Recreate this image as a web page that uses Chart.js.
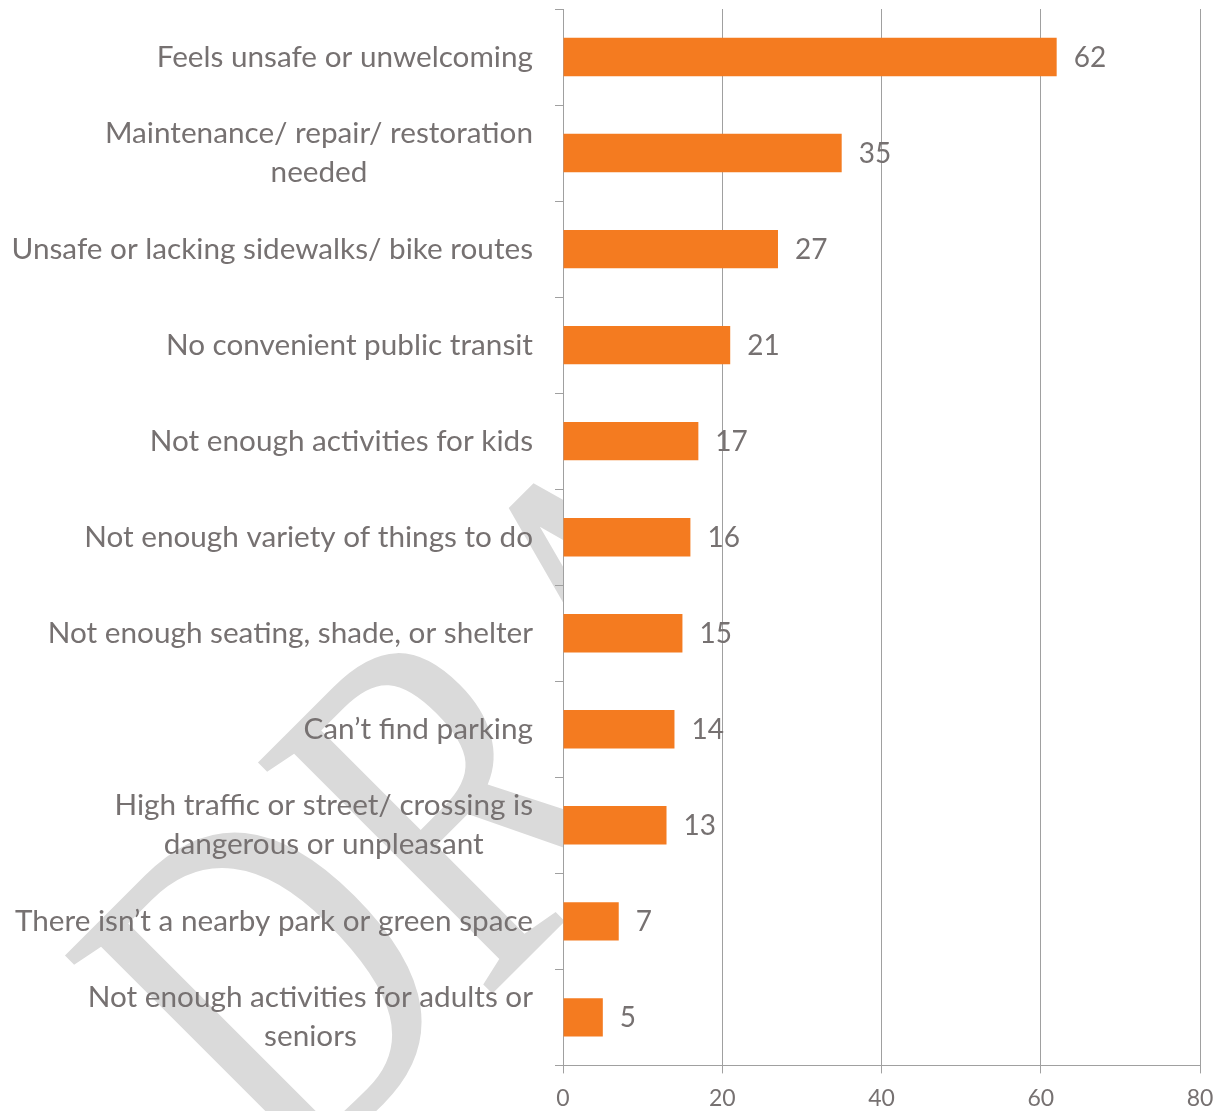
<!DOCTYPE html>
<html>
<head>
<meta charset="utf-8">
<script src="https://cdn.jsdelivr.net/npm/chart.js@4"></script>
<style>
  html, body { margin: 0; padding: 0; background: #fff; }
  #wrap { width: 1220px; height: 1111px; }
</style>
</head>
<body>
<div id="wrap"><canvas id="bars" width="1220" height="1111"></canvas></div>
<script>
const categories = [
  ['Feels unsafe or unwelcoming'],
  ['Maintenance/ repair/ restoration', 'needed'],
  ['Unsafe or lacking sidewalks/ bike routes'],
  ['No convenient public transit'],
  ['Not enough activities for kids'],
  ['Not enough variety of things to do'],
  ['Not enough seating, shade, or shelter'],
  ['Can\u2019t find parking'],
  ['High traffic or street/ crossing is', 'dangerous or unpleasant'],
  ['There isn\u2019t a nearby park or green space'],
  ['Not enough activities for adults or', 'seniors']
]
const counts = [62, 35, 27, 21, 17, 16, 15, 14, 13, 7, 5]
const xTicks = [0, 20, 40, 60, 80]

const textGray = '#767171'
const lineGray = '#a0a0a0'
const orange = '#F47B20'

// stretched "DRAFT" watermark behind the labels; the plot area is filled white over it
const watermark = {
  id: 'watermark',
  beforeDraw(chart) {
    const ctx = chart.ctx
    const area = chart.chartArea
    ctx.save()
    ctx.translate(290, 1196)
    ctx.rotate(-Math.PI / 4)
    ctx.scale(1, 1.33)
    ctx.font = '378px "Liberation Serif"'
    ctx.fillStyle = '#dadada'
    ctx.textBaseline = 'alphabetic'
    ctx.fillText('DRAFT', 0, 0)
    ctx.restore()
    ctx.save()
    ctx.fillStyle = '#fff'
    ctx.fillRect(area.left, area.top, area.right - area.left, area.bottom - area.top)
    ctx.restore()
  }
}

// category labels (second line centred under the first) and value labels
const labels = {
  id: 'labels',
  afterDraw(chart) {
    const ctx = chart.ctx
    const y = chart.scales.y
    const meta = chart.getDatasetMeta(0)
    ctx.save()
    ctx.fillStyle = textGray
    ctx.textBaseline = 'middle'
    ctx.font = '29.7px Lato'
    const right = chart.chartArea.left - 30
    categories.forEach((lines, i) => {
      const cy = y.getPixelForValue(i)
      if (lines.length === 1) {
        ctx.textAlign = 'right'
        ctx.fillText(lines[0], right, cy)
      } else {
        const w = ctx.measureText(lines[0]).width
        const mid = right - w / 2
        ctx.textAlign = 'center'
        ctx.fillText(lines[0], mid, cy - 19.5)
        ctx.fillText(lines[1], mid, cy + 19.5)
      }
    })
    ctx.font = '28px Lato'
    ctx.textAlign = 'left'
    meta.data.forEach((bar, i) => {
      ctx.fillText(String(counts[i]), bar.x + 17, bar.y + 1)
    })
    ctx.restore()
  }
}

new Chart(document.getElementById('bars'), {
  type: 'bar',
  data: {
    labels: categories.map(c => c.join(' ')),
    datasets: [{
      data: counts,
      backgroundColor: orange,
      barPercentage: 0.4,
      categoryPercentage: 1
    }]
  },
  options: {
    indexAxis: 'y',
    responsive: false,
    animation: false,
    devicePixelRatio: 1,
    layout: { padding: { left: 555, right: 20, top: 9, bottom: -13 } },
    plugins: {
      legend: { display: false },
      tooltip: { enabled: false }
    },
    scales: {
      x: {
        min: 0,
        max: 80,
        afterBuildTicks(scale) { scale.ticks = xTicks.map(v => ({ value: v })) },
        // the "80" label only needs half its width on the right
        afterFit(scale) { scale.paddingRight = 14 },
        grid: { color: lineGray, lineWidth: 1, tickLength: 8 },
        border: { color: lineGray, width: 1 },
        ticks: { color: textGray, font: { family: 'Lato', size: 23 }, padding: 11.5 }
      },
      y: {
        grid: { drawOnChartArea: false, color: lineGray, tickLength: 8, offset: true },
        border: { color: lineGray, width: 1 },
        ticks: { display: false }
      }
    }
  },
  plugins: [watermark, labels]
})
</script>
</body>
</html>
